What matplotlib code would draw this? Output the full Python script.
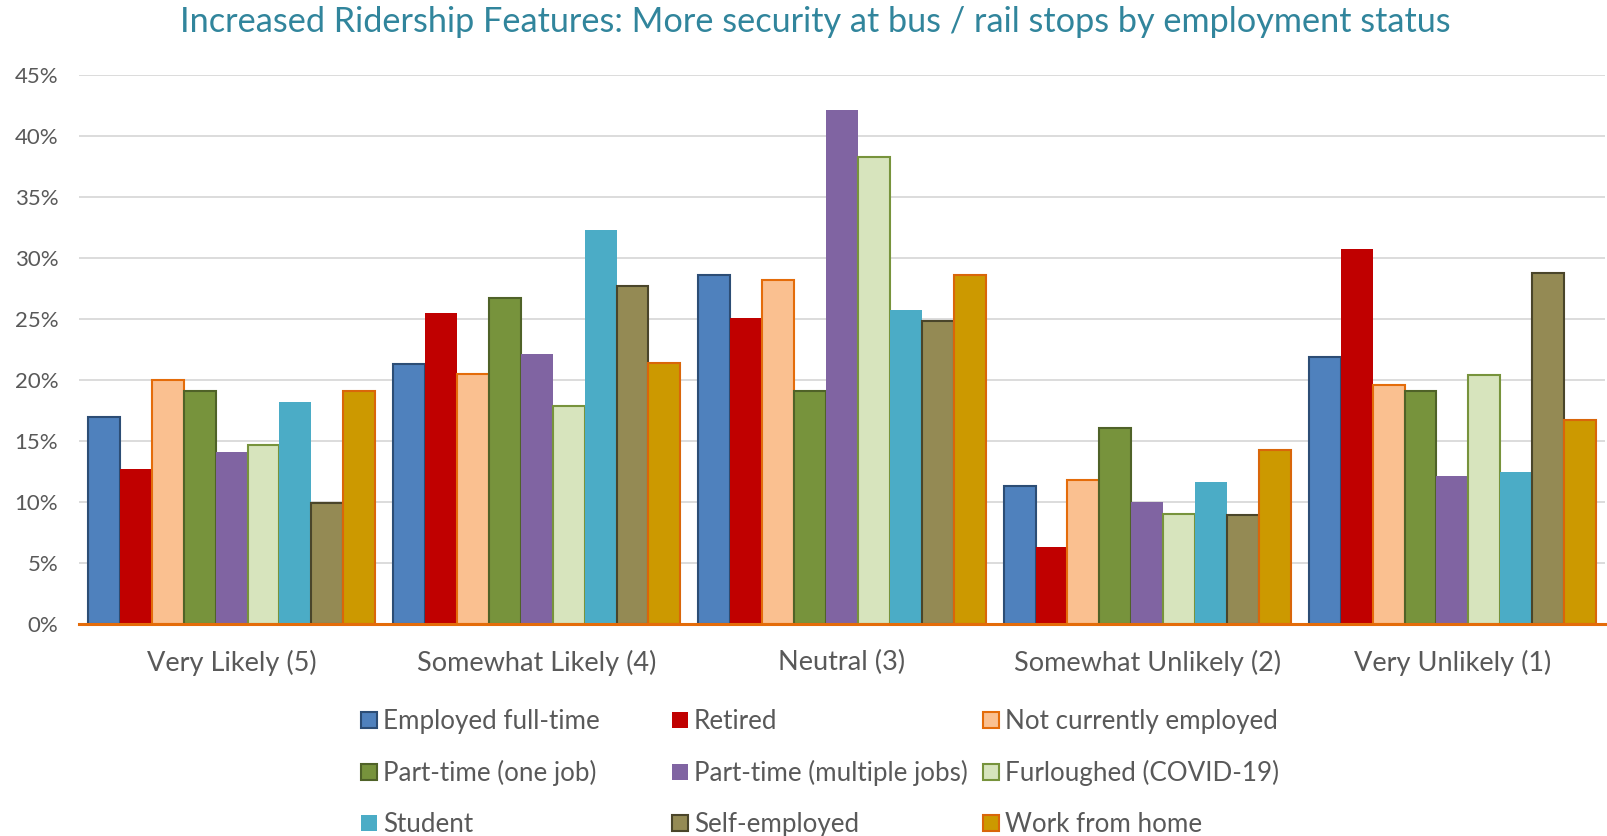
import matplotlib
matplotlib.use("Agg")
import matplotlib.pyplot as plt
from matplotlib.patches import Patch
from matplotlib.ticker import PercentFormatter
import numpy as np

plt.rcParams['font.family'] = ['Lato', 'DejaVu Sans']

categories = ["Very Likely (5)", "Somewhat Likely (4)", "Neutral (3)",
              "Somewhat Unlikely (2)", "Very Unlikely (1)"]

employed_full_time = [17.0, 21.3, 28.6, 11.3, 21.9]
retired = [12.7, 25.5, 25.1, 6.3, 30.7]
not_currently_employed = [20.0, 20.5, 28.2, 11.8, 19.6]
part_time_one = [19.1, 26.7, 19.1, 16.1, 19.1]
part_time_multiple = [14.1, 22.1, 42.1, 10.0, 12.1]
furloughed = [14.7, 17.9, 38.3, 9.0, 20.4]
student = [18.2, 32.3, 25.7, 11.6, 12.5]
self_employed = [9.9, 27.7, 24.8, 8.9, 28.8]
work_from_home = [19.1, 21.4, 28.6, 14.3, 16.7]

series = [
    ("Employed full-time", employed_full_time, "#4F81BD", "#2C4D75"),
    ("Retired", retired, "#C00000", "none"),
    ("Not currently employed", not_currently_employed, "#FAC090", "#E46C0A"),
    ("Part-time (one job)", part_time_one, "#77933C", "#4F6228"),
    ("Part-time (multiple jobs)", part_time_multiple, "#8064A2", "none"),
    ("Furloughed (COVID-19)", furloughed, "#D7E4BD", "#77933C"),
    ("Student", student, "#4BACC6", "none"),
    ("Self-employed", self_employed, "#948A54", "#4A452A"),
    ("Work from home", work_from_home, "#CC9900", "#D9660A"),
]

text_col = "#595959"

fig = plt.figure(figsize=(16.08, 8.36), dpi=100)
ax = fig.add_axes([79 / 1608, 1 - 624 / 836, 1526 / 1608, 549 / 836])

x = np.arange(len(categories))
n = len(series)
bw = 0.941 / n
handles = []
for i, (name, vals, fc, ec) in enumerate(series):
    pos = x - 0.941 / 2 + bw * (i + 0.5)
    ax.bar(pos, np.array(vals) / 100, width=bw, color=fc,
           edgecolor=ec, linewidth=1.5, zorder=3)
    handles.append(Patch(facecolor=fc, edgecolor=ec, linewidth=1.5, label=name))

ax.set_xlim(-0.5, 4.5)
ax.set_ylim(0, 0.45)
ax.set_yticks(np.arange(0, 0.451, 0.05))
ax.yaxis.set_major_formatter(PercentFormatter(1.0, decimals=0))
ax.grid(axis="y", color="#D9D9D9", linewidth=1.3, zorder=0)
ax.set_xticks(x)
ax.set_xticklabels(categories)
ax.tick_params(axis="both", length=0, colors=text_col)
ax.tick_params(axis="x", pad=19, labelsize=19.5)
ax.tick_params(axis="y", pad=15, labelsize=16)
for s in ["top", "right", "left"]:
    ax.spines[s].set_visible(False)
ax.spines["bottom"].set_color("#E46C0A")
ax.spines["bottom"].set_linewidth(2.2)
ax.spines["bottom"].set_zorder(4)

fig.suptitle("Increased Ridership Features: More security at bus / rail stops by employment status",
             x=815 / 1608, y=1 - 22 / 836, va="center", fontsize=24.7, color="#31859C")

# legend laid out row-wise in three columns
col_x = [361, 672, 983]
for c in range(3):
    leg = fig.legend(handles=[handles[c], handles[c + 3], handles[c + 6]],
                     loc="upper left", bbox_to_anchor=(col_x[c] / 1608, 1 - 709 / 836),
                     frameon=False, fontsize=18.7, handlelength=0.6, handleheight=0.6,
                     handletextpad=0.25, labelspacing=1.0, borderpad=0, borderaxespad=0)
    for t in leg.get_texts():
        t.set_color(text_col)

fig.savefig("out.png", dpi=100)
